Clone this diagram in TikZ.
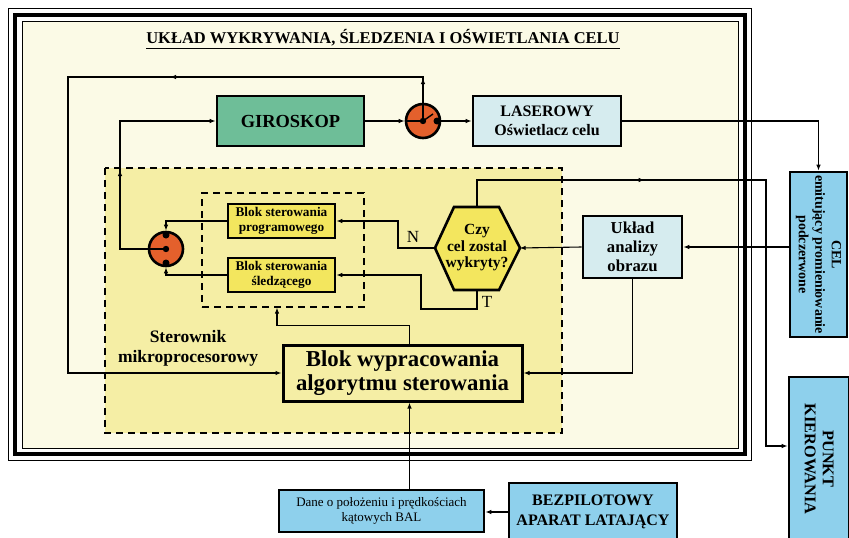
\documentclass[tikz,border=0pt]{standalone}
\usepackage{fontspec}
\setmainfont{Liberation Serif}
\usetikzlibrary{arrows.meta,decorations.markings,calc}
\newcommand{\rozmiar}[2]{\fontsize{#1}{#2}\selectfont}
\definecolor{krem}{HTML}{FBFAE6}
\definecolor{jasnozolty}{HTML}{F5EEA5}
\definecolor{zolty}{HTML}{F3E65E}
\definecolor{zielony}{HTML}{6EBE98}
\definecolor{blady}{HTML}{D6ECEF}
\definecolor{niebieski}{HTML}{8ED0EC}
\definecolor{pomar}{HTML}{E4602C}

\begin{document}
\begin{tikzpicture}[x=1pt,y=-1pt,>={Latex[length=6pt,width=4.5pt]},
    every node/.style={inner sep=0pt,align=center},
    ramka/.style={draw,line width=2.6pt,font=\bfseries},
    przerywana/.style={draw,line width=1.2pt,dash pattern=on 7pt off 5pt},
    polacz/.style={line width=1.1pt,->},
    przelacznik/.style={circle,draw,line width=2.6pt,fill=pomar,minimum size=34pt}]
  \useasboundingbox (0,0) rectangle (849,538);
  % ramka
  \draw[line width=0.8pt] (8,8) rectangle (751,460);
  \draw[line width=4pt] (15,15) rectangle (745,454);
  \draw[line width=0.8pt,fill=krem] (22,21) rectangle (738,448);
  \node[font=\bfseries\rozmiar{16.5}{20}] (tytul) at (383,39)
    {\underline{UKŁAD WYKRYWANIA, ŚLEDZENIA I OŚWIETLANIA CELU}};
  % sterownik
  \draw[przerywana,fill=jasnozolty] (105,168) rectangle (562,433);
  \node[przerywana,minimum width=162pt,minimum height=114pt] (wewn) at (283,250) {};
  \node[font=\bfseries\rozmiar{17.5}{20}] (sterownik) at (188,348) {Sterownik\\mikroprocesorowy};

  \node[ramka,fill=zielony,minimum width=147pt,minimum height=50pt,
    font=\bfseries\rozmiar{18.4}{22}] (giro) at (290.5,121) {GIROSKOP};
  \node[przelacznik] (sw1) at (423,121) {};
  \node[ramka,fill=blady,minimum width=148pt,minimum height=50pt,
    font=\bfseries\rozmiar{16}{19}] (laser) at (547,121) {LASEROWY\\Oświetlacz celu};
  \node[przelacznik] (sw2) at (166,249) {};
  \node[ramka,fill=zolty,minimum width=107pt,minimum height=34pt,
    font=\bfseries\rozmiar{13.3}{15}] (prog) at (281.5,221) {Blok sterowania\\programowego};
  \node[ramka,fill=zolty,minimum width=107pt,minimum height=34pt,
    font=\bfseries\rozmiar{13.3}{15}] (sled) at (281.5,275) {Blok sterowania\\śledzącego};
  \draw[line width=2.6pt,fill=zolty] (435,248) -- (454,207) -- (499,207) -- (520,248)
    -- (499,290) -- (454,290) -- cycle;
  \node[minimum width=85pt,minimum height=83pt,font=\bfseries\rozmiar{15.5}{16.5}] (czy)
    at (477,248) {Czy\\cel zostal\\wykryty?};
  \node[ramka,fill=blady,minimum width=99pt,minimum height=62pt,
    font=\bfseries\rozmiar{16.7}{19}] (uklad) at (632.5,247) {Układ\\analizy\\obrazu};
  \node[ramka,line width=3pt,fill=jasnozolty,minimum width=239pt,minimum height=56pt,
    font=\bfseries\rozmiar{22.8}{24}] (blok) at (402.5,373) {Blok wypracowania\\algorytmu sterowania};
  \node[ramka,fill=niebieski,rotate=-90,minimum width=165pt,minimum height=57pt,
    font=\bfseries\rozmiar{14}{16.5}] (cel) at (818.5,254.5) {CEL\\emitujący promieniowanie\\podczerwone};
  \node[ramka,fill=niebieski,rotate=-90,minimum width=164pt,minimum height=60pt,
    font=\bfseries\rozmiar{16.3}{18}] (punkt) at (819,459) {PUNKT\\KIEROWANIA};
  \node[ramka,fill=niebieski,minimum width=205pt,minimum height=42pt,
    font=\rozmiar{13}{15}] (dane) at (381.5,511) {Dane o położeniu i prędkościach\\kątowych BAL};
  \node[ramka,fill=niebieski,minimum width=168pt,minimum height=58pt,
    font=\bfseries\rozmiar{16}{20}] (bezp) at (593,512) {BEZPILOTOWY\\APARAT LATAJĄCY};
  \node[font=\rozmiar{17}{20}] (etN) at (413,237) {N};
  \node[font=\rozmiar{17}{20}] (etT) at (487,302) {T};

  % polaczenia
  \draw[polacz] (giro.east) -- (sw1.west);
  \draw[line width=1.1pt] (sw1.west) -- (sw1.center);
  \draw[polacz] (sw1.east) -- (laser.west);
  \draw[polacz,postaction=decorate,decoration={markings,
      mark=at position 43pt with {\arrow{>}},mark=at position 297pt with {\arrow{>}}}]
    (sw1.center) |- (68,77) |- (blok.west);
  \draw[polacz,postaction=decorate,decoration={markings,
      mark=at position 125pt with {\arrow{>}}}]
    (sw2.center) -- (120,249) |- (giro.west);
  \draw[polacz] (prog.west) -| (sw2.north);
  \draw[polacz] (sled.west) -| (sw2.south);
  \draw[polacz] (czy.west) -- (398,248) |- (prog.east);
  \draw[polacz] (czy.south) |- (421,309) |- (sled.east);
  \draw[polacz] (uklad.west) -- (czy.east);
  \draw[polacz] (cel.south |- uklad.east) -- (uklad.east);
  \draw[polacz] (laser.east) -| (cel.west);
  \draw[polacz,postaction=decorate,decoration={markings,
      mark=at position 194pt with {\arrow{>}}}]
    (czy.north) |- (766,180) -- (766,446) -- (punkt.south |- 766,446);
  \draw[polacz] (uklad.south) |- (blok.east);
  \draw[polacz] ([xshift=7pt]blok.north) -- ++(0,-18) -| ([xshift=-6pt]wewn.south);
  \coordinate (wej) at ([xshift=7pt]blok.south);
  \draw[polacz] (wej |- dane.north) -- (wej);
  \draw[polacz] (bezp.west) -- (bezp.west -| dane.east);

  % przelaczniki
  \draw[line width=1.4pt] (sw1.center) -- ++(10,-7);
  \fill (sw1.center) circle (3.2pt);
  \fill (437,121) circle (3.5pt);
  \fill (sw2.center) circle (3.2pt);
  \fill (166,235) circle (3.5pt);
  \fill (166,263) circle (3.5pt);
\end{tikzpicture}
\end{document}
